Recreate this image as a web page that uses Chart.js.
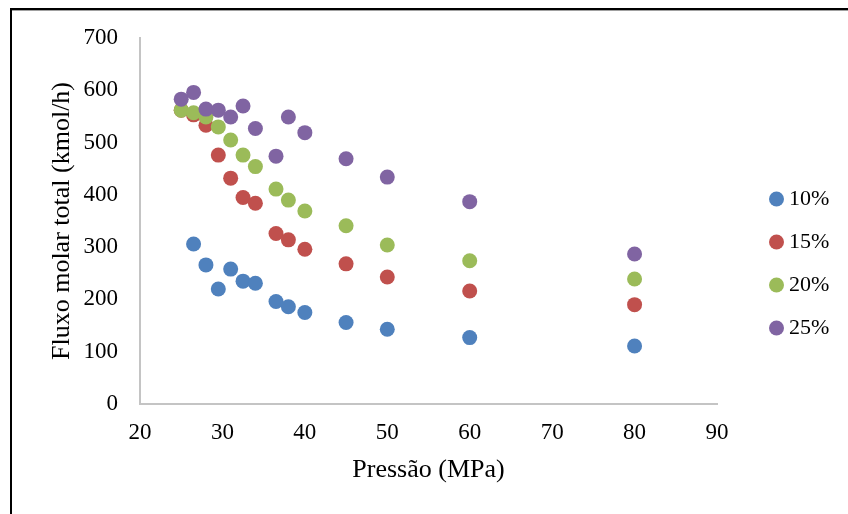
<!DOCTYPE html>
<html>
<head>
<meta charset="utf-8">
<script src="https://cdn.jsdelivr.net/npm/chart.js@4"></script>
<style>
  html, body { margin: 0; padding: 0; background: #fff; width: 848px; height: 514px; overflow: hidden; }
  #frame { position: absolute; left: 10px; top: 8px; width: 900px; height: 600px;
           border-top: 2px solid #000; border-left: 2px solid #000; box-shadow: inset 0 1px 0 #a0a0a0; }
  #c { position: absolute; left: 0; top: 0; }
</style>
</head>
<body>
<div id="frame"></div>
<canvas id="c" width="848" height="514"></canvas>
<script>
// Pressure (MPa) for each simulated case
const pressures = [25, 26.5, 28, 29.5, 31, 32.5, 34, 36.5, 38, 40, 45, 50, 60, 80];

// Total molar flow (kmol/h) per composition; null = no run at that pressure
const flow10 = [null, 306, 266, 220, 258, 235, 231, 196, 186, 175, 156, 143, 127, 111];
const flow15 = [562, 553, 533, 476, 432, 395, 384, 326, 314, 296, 268, 243, 216, 190];
const flow20 = [562, 557, 549, 530, 505, 476, 454, 411, 390, 369, 341, 304, 274, 239];
const flow25 = [583, 596, 564, 562, 549, 570, 527, 474, 549, 519, 469, 434, 387, 287];

const seriesLabels = ['10%', '15%', '20%', '25%'];
const seriesValues = [flow10, flow15, flow20, flow25];
const seriesColors = ['#4F81BD', '#C0504D', '#9BBB59', '#8064A2'];

const xMin = 20, xMax = 90, xStep = 10;
const yMin = 0, yMax = 700, yStep = 100;

const SERIF = '"Liberation Serif", "Times New Roman", serif';

function toPoints(values) {
  return pressures.map((p, i) => ({ x: p, y: values[i] }));
}

const datasets = seriesValues.map((vals, i) => ({
  label: seriesLabels[i],
  data: toPoints(vals),
  backgroundColor: seriesColors[i],
  borderColor: seriesColors[i],
  borderWidth: 0,
  pointRadius: 7.5,
  pointHoverRadius: 7.5,
  pointStyle: 'circle',
  // later series are painted over earlier ones
  order: seriesValues.length - i
}));

// Place the legend block to the right of the plot, vertically centred on the page
const legendPlacement = {
  id: 'legendPlacement',
  afterLayout(chart) {
    const lg = chart.legend;
    if (!lg) return;
    lg.left = 754; lg.right = 848;
    lg.top = 167; lg.bottom = 404;
    lg.width = lg.right - lg.left;
    lg.height = lg.bottom - lg.top;
  }
};

new Chart(document.getElementById('c'), {
  type: 'scatter',
  data: { datasets },
  plugins: [legendPlacement],
  options: {
    responsive: false,
    animation: false,
    events: [],
    layout: { padding: { left: 0, right: 131, top: 38, bottom: 0 } },
    scales: {
      x: {
        type: 'linear',
        min: xMin, max: xMax,
        ticks: { stepSize: xStep, padding: 15, color: '#000', font: { family: SERIF, size: 23 } },
        grid: { display: false, drawTicks: false },
        border: { display: true, color: '#c4c4c4', width: 2 },
        title: {
          display: true, text: 'Pressão (MPa)', color: '#000',
          font: { family: SERIF, size: 26, lineHeight: 1.2 },
          padding: { top: 0, bottom: 28 }
        },
        afterFit(scale) { scale.height = 110; }
      },
      y: {
        type: 'linear',
        min: yMin, max: yMax,
        ticks: { stepSize: yStep, padding: 22, color: '#000', font: { family: SERIF, size: 23 } },
        grid: { display: false, drawTicks: false },
        border: { display: true, color: '#c4c4c4', width: 2 },
        title: {
          display: true, text: 'Fluxo molar total (kmol/h)', color: '#000',
          font: { family: SERIF, size: 26, lineHeight: 1.2 },
          padding: { top: 47, bottom: 0 }
        },
        afterFit(scale) { scale.width = 140; }
      }
    },
    plugins: {
      legend: {
        position: 'chartArea',
        align: 'start',
        labels: {
          usePointStyle: true,
          pointStyle: 'circle',
          boxWidth: 3,
          boxHeight: 10.6,
          padding: 21,
          color: '#000',
          font: { family: SERIF, size: 22 },
          sort: (a, b) => a.datasetIndex - b.datasetIndex
        }
      },
      tooltip: { enabled: false }
    }
  }
});
</script>
</body>
</html>
